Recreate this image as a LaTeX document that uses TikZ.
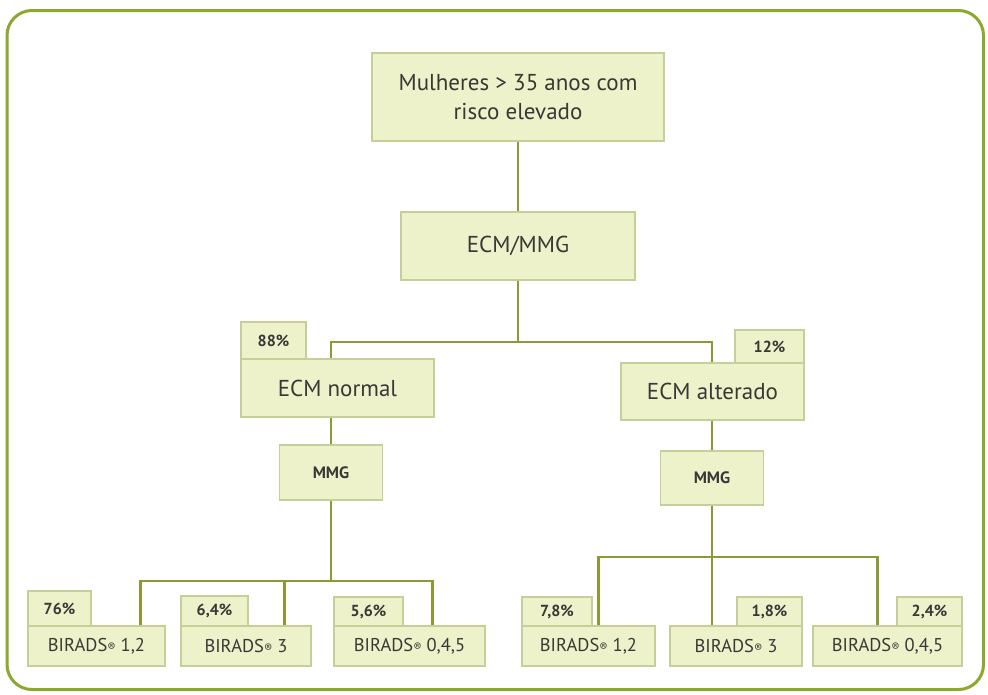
\documentclass[tikz,border=0pt]{standalone}
\usepackage{fontspec}
\setmainfont{PT Sans}
\definecolor{frame}{HTML}{8DA82E}
\definecolor{boxfill}{HTML}{EDF2CB}
\definecolor{boxline}{HTML}{C7CF98}
\definecolor{link}{HTML}{8C9A36}
\definecolor{txt}{HTML}{383834}
\newcommand{\regmark}{{\fontsize{12}{12}\selectfont ®}}
\begin{document}
\begin{tikzpicture}[x=1pt,y=-1pt,
  box/.style={draw=boxline,fill=boxfill,line width=1.2pt,text=txt,inner sep=0pt,align=center},
  big/.style={box,font=\fontsize{23}{29}\selectfont},
  small/.style={box,font=\bfseries\fontsize{16.5}{18}\selectfont},
  bir/.style={box,font=\fontsize{18.5}{20}\selectfont},
  pct/.style={box,font=\bfseries\fontsize{16}{18}\selectfont},
  conn/.style={draw=link,line width=2.6pt}]
\useasboundingbox (0,0) rectangle (988,694);
\fill[white] (0,0) rectangle (988,694);
\draw[frame,line width=3pt,rounded corners=25pt] (7,10.5) rectangle (983.5,689.5);

% top levels
\node[big,minimum width=292pt,minimum height=88pt] (top) at (518,97) {Mulheres > 35 anos com\\risco elevado};
\node[big,minimum width=234pt,minimum height=68pt] (ecm) at (518,246) {ECM/MMG};

% second level with tabs
\node[pct,minimum width=65pt,minimum height=37pt] (p88) at (273.5,340.5) {88\%};
\node[big,minimum width=193pt,minimum height=58pt] (ecmn) at (337.5,388) {ECM normal};
\node[pct,minimum width=69pt,minimum height=33pt] (p12) at (769.5,346.5) {12\%};
\node[big,minimum width=183pt,minimum height=57pt] (ecma) at (712.5,391.5) {ECM alterado};

% MMG
\node[small,minimum width=103pt,minimum height=55pt] (mmgl) at (331,472.5) {MMG};
\node[small,minimum width=103pt,minimum height=54pt] (mmgr) at (712,478) {MMG};

% bottom left
\node[pct,minimum width=63pt,minimum height=35pt] (p76) at (59.5,608.5) {76\%};
\node[bir,minimum width=137pt,minimum height=40pt] (b1) at (96.5,646) {BIRADS\regmark\ 1,2};
\node[pct,minimum width=67pt,minimum height=30pt] (p64) at (214.5,611) {6,4\%};
\node[bir,minimum width=130pt,minimum height=40pt] (b2) at (246,646) {BIRADS\regmark\ 3};
\node[pct,minimum width=69pt,minimum height=29pt] (p56) at (368.5,611.5) {5,6\%};
\node[bir,minimum width=151pt,minimum height=40pt] (b3) at (409.5,646) {BIRADS\regmark\ 0,4,5};

% bottom right
\node[pct,minimum width=70pt,minimum height=29pt] (p78) at (557,611.5) {7,8\%};
\node[bir,minimum width=133pt,minimum height=40pt] (b4) at (588.5,646) {BIRADS\regmark\ 1,2};
\node[pct,minimum width=65pt,minimum height=29pt] (p18) at (769.5,611.5) {1,8\%};
\node[bir,minimum width=132pt,minimum height=40pt] (b5) at (736,646) {BIRADS\regmark\ 3};
\node[pct,minimum width=65pt,minimum height=29pt] (p24) at (929.5,611.5) {2,4\%};
\node[bir,minimum width=149pt,minimum height=40pt] (b6) at (887.5,646) {BIRADS\regmark\ 0,4,5};

% junctions
\coordinate (j1) at (518,342);
\coordinate (j2) at (331,581);
\coordinate (j3) at (712,557);

% connectors
\draw[conn] (top.south) -- (ecm.north);
\draw[conn] (ecm.south) -- (j1);
\draw[conn] (j1) -| (ecmn.north -| mmgl.north);
\draw[conn] (j1) -| (ecma.north -| mmgr.north);
\draw[conn] (ecmn.south -| mmgl.north) -- (mmgl.north);
\draw[conn] (ecma.south -| mmgr.north) -- (mmgr.north);
\draw[conn] (mmgl.south) -- (j2);
\draw[conn] (mmgr.south) -- (j3);
\draw[conn] (j2) -| ([xshift=-25pt]b1.north east);
\draw[conn] (j2) -| ([xshift=-27pt]b2.north east);
\draw[conn] (j2) -| ([xshift=-53pt]b3.north east);
\draw[conn] (j3) -| ([xshift=77pt]b4.north west);
\draw[conn] (j3) -| (b5.north -| mmgr.south);
\draw[conn] (j3) -| ([xshift=65pt]b6.north west);
\end{tikzpicture}
\end{document}
